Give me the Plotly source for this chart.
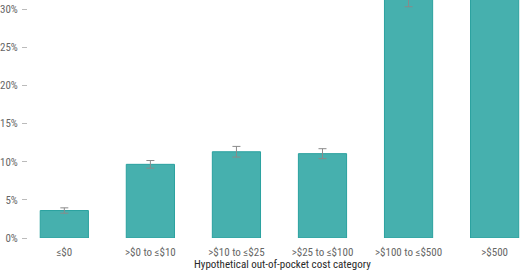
import plotly.graph_objects as go

categories = ["≤$0", ">$0 to ≤$10", ">$10 to ≤$25", ">$25 to ≤$100", ">$100 to ≤$500", ">$500"]
values = [3.6, 9.65, 11.3, 11.05, 31.5, 45.0]
errors = [0.35, 0.5, 0.7, 0.65, 1.2, 1.5]
y_ticks = [0, 5, 10, 15, 20, 25, 30]
y_tick_text = ["0%", "5%", "10%", "15%", "20%", "25%", "30%"]
x_title = "Hypothetical out-of-pocket cost category"

FONT = "Liberation Sans Narrow, Roboto Condensed, Lato, sans-serif"

fig = go.Figure(go.Bar(
    x=list(range(len(categories))),
    y=values,
    width=0.56,
    marker=dict(color="#46b0ae", line=dict(color="#2aa19f", width=1)),
    error_y=dict(type="data", array=errors, color="#8a8a8a", thickness=1, width=4),
))

fig.update_layout(
    width=520, height=272,
    margin=dict(l=26, r=0, t=0, b=34),
    paper_bgcolor="white", plot_bgcolor="white",
    showlegend=False,
    font=dict(family=FONT, size=11, color="#666"),
    annotations=[dict(
        text=x_title, xref="paper", yref="paper",
        x=0.518, y=0, yshift=-26, xanchor="center", yanchor="middle",
        showarrow=False, font=dict(family=FONT, size=11, color="#2a2a2a"),
    )],
)
fig.update_xaxes(
    range=[-0.422, 5.295],
    tickmode="array",
    tickvals=list(range(len(categories))),
    ticktext=categories,
    showline=False, showgrid=False, zeroline=False,
    ticks="", ticklabelstandoff=6,
    tickfont=dict(family=FONT, size=11, color="#666"),
)
fig.update_yaxes(
    range=[0, 31.18],
    tickmode="array",
    tickvals=y_ticks,
    ticktext=y_tick_text,
    showline=False, showgrid=False, zeroline=False,
    ticks="outside", ticklen=5, tickcolor="#bbb", tickwidth=1,
    ticklabelstandoff=2,
    tickfont=dict(family=FONT, size=11, color="#666"),
)

fig.write_html("out.html")
